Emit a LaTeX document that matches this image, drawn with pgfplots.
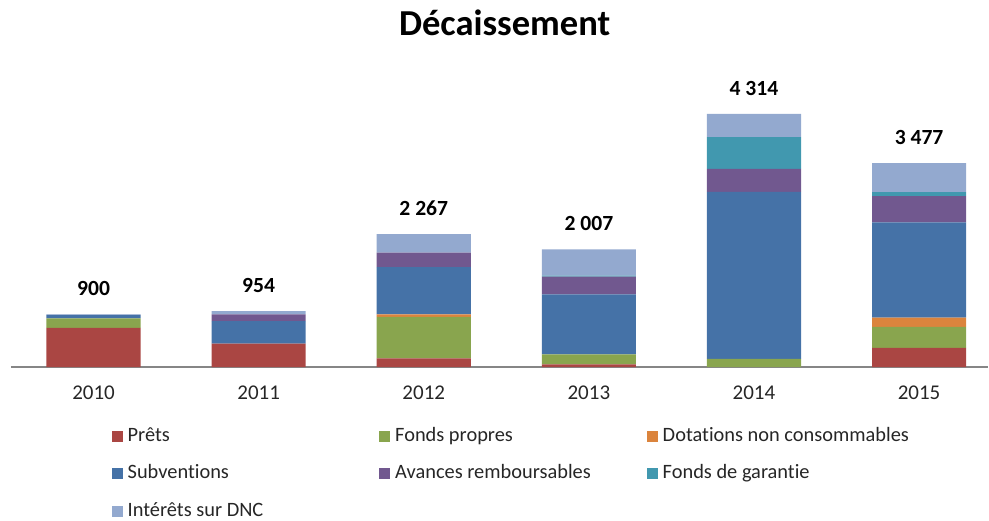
\documentclass[border=0pt]{standalone}
\usepackage{pgfplots}
\pgfplotsset{compat=1.18}
\usepackage{fontspec}
\setmainfont{Carlito}[Ligatures=NoCommon]

\definecolor{cPret}{HTML}{AA4643}
\definecolor{cFP}{HTML}{89A54E}
\definecolor{cDNC}{HTML}{DB843D}
\definecolor{cSub}{HTML}{4572A7}
\definecolor{cAv}{HTML}{71588F}
\definecolor{cFG}{HTML}{4198AF}
\definecolor{cInt}{HTML}{93A9CF}
\definecolor{axisgray}{HTML}{868686}
\definecolor{txt}{HTML}{262626}

\newcommand{\lgbox}[1]{\makebox[125.85pt][l]{#1}}

\begin{document}
\begin{tikzpicture}
\begin{axis}[
  at={(5.5pt,74.85pt)}, anchor=south west,
  scale only axis, width=489pt, height=140.95pt,
  ybar stacked, bar width=0.57,
  xmin=-0.5, xmax=5.42, ymin=0, ymax=4800,
  clip=false,
  axis x line*=bottom, hide y axis,
  x axis line style={draw=axisgray, line width=0.6pt, -},
  xtick={0,...,5}, xticklabels={2010,2011,2012,2013,2014,2015},
  major tick length=0pt,
  xticklabel style={anchor=center, yshift=-12.6pt, font=\fontsize{10.5}{12}\selectfont, text=txt},
  legend columns=3,
  legend image code/.code={\fill[#1] (0pt,-2.75pt) rectangle (5.5pt,2.75pt);},
  legend style={draw=none, fill=none, inner sep=0pt, outer sep=0pt,
    at={(axis description cs:0.103,-0.214)}, anchor=north west,
    font=\fontsize{10.2}{12}\selectfont, text=txt,
    nodes={inner sep=0pt, text height=7pt, text depth=2pt},
    row sep=9.8pt,
    /tikz/every odd column/.append style={column sep=2.5pt},
    /tikz/every even column/.append style={column sep=0pt}},
  legend cell align=left,
  every axis plot/.append style={draw=none},
]
\addplot[fill=cPret] coordinates {(0,670) (1,400) (2,150) (3,45) (4,0) (5,329)};
\addlegendentry{\lgbox{Prêts}}
\addplot[fill=cFP] coordinates {(0,160) (1,0) (2,705) (3,170) (4,141) (5,357)};
\addlegendentry{\lgbox{Fonds propres}}
\addplot[fill=cDNC] coordinates {(0,0) (1,0) (2,45) (3,0) (4,0) (5,158)};
\addlegendentry{\lgbox{Dotations non consommables}}
\addplot[fill=cSub] coordinates {(0,60) (1,385) (2,805) (3,1025) (4,2845) (5,1622)};
\addlegendentry{\lgbox{Subventions}}
\addplot[fill=cAv] coordinates {(0,0) (1,115) (2,245) (3,300) (4,392) (5,447)};
\addlegendentry{\lgbox{Avances remboursables}}
\addplot[fill=cFG] coordinates {(0,0) (1,0) (2,0) (3,17) (4,540) (5,68)};
\addlegendentry{\lgbox{Fonds de garantie}}
\addplot[fill=cInt] coordinates {(0,10) (1,54) (2,317) (3,450) (4,396) (5,496)};
\addlegendentry{\lgbox{Intérêts sur DNC}}

\foreach \i/\t/\s in {0/900/900, 1/954/954, 2/2267/2 267, 3/2007/2 007, 4/4314/4 314, 5/3477/3 477}{
  \edef\tmp{\noexpand\node[anchor=center, yshift=12.75pt, font=\noexpand\bfseries\noexpand\fontsize{10.8}{12}\noexpand\selectfont, text=black] at (axis cs:\i,\t) {\s};}
  \tmp
}
\end{axis}
\node[anchor=base, font=\bfseries\fontsize{18.3}{22}\selectfont] at (252.5pt,240.5pt) {Décaissement};
\path[use as bounding box] (0,0) rectangle (494.5pt,258.5pt);
\end{tikzpicture}
\end{document}
